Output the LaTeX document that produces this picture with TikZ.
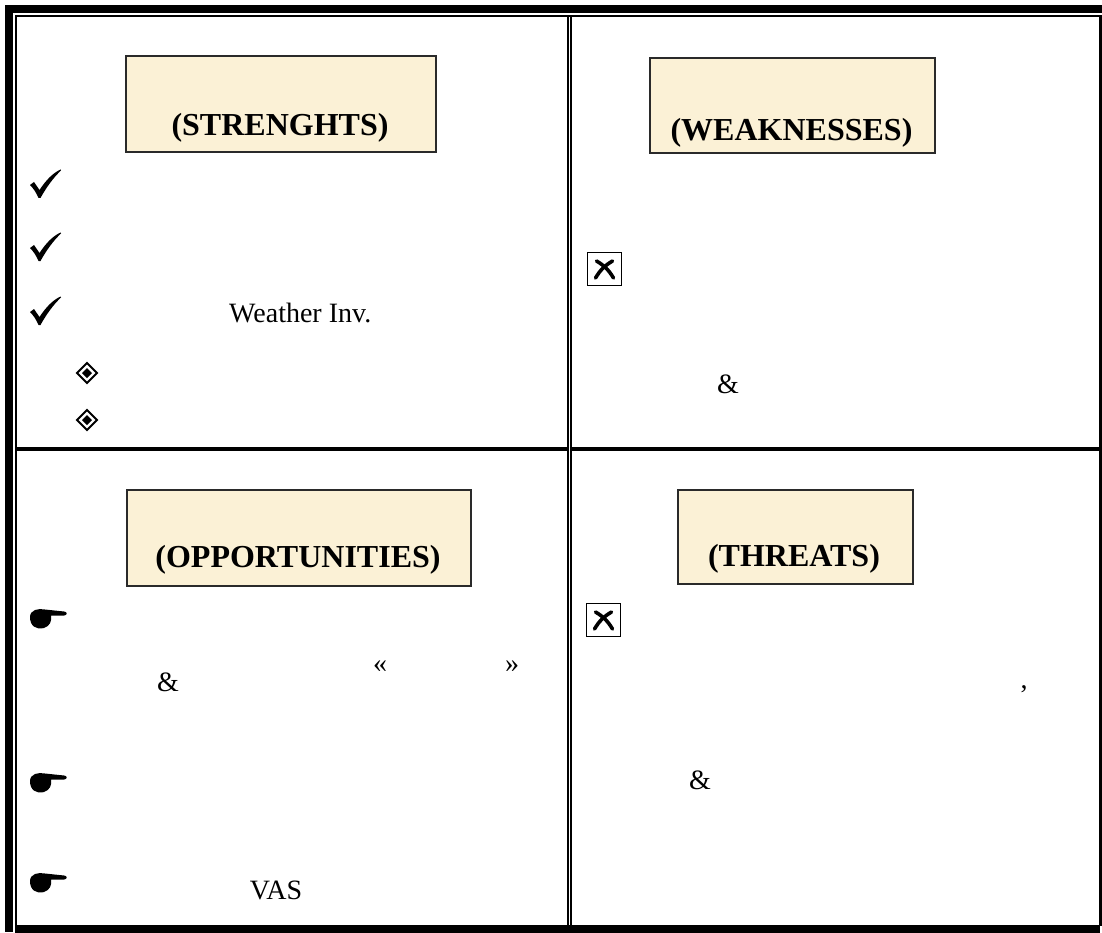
\documentclass[tikz,border=0pt]{standalone}
\usepackage{fontspec}
\setmainfont{Liberation Serif}
\definecolor{cream}{HTML}{FBF1D6}
\definecolor{edgegray}{HTML}{2A2A2A}
\begin{document}
\begin{tikzpicture}[x=1pt,y=-1pt,
  titlebox/.style={draw=edgegray, line width=1.6pt, fill=cream, anchor=north west, inner sep=0pt},
  titletext/.style={anchor=base, inner sep=0pt, font=\fontsize{32}{38}\selectfont\bfseries},
  body/.style={anchor=base, inner sep=0pt, font=\fontsize{28}{34}\selectfont},
  xbox/.style={draw=black, line width=1.6pt, minimum width=34pt, minimum height=33pt, inner sep=0pt},
  xstroke/.style={line width=3.6pt, line cap=round},
  tickmark/.pic={
    \fill (-15,1) -- (-11,-2) -- (-5.5,6)
      .. controls (1,-4) and (8,-11) .. (15.5,-14.5) -- (16,-13.5)
      .. controls (8,-6) and (1,4) .. (-4.5,14) -- (-6.5,14)
      .. controls (-9,8) and (-12,4) .. cycle;
  },
  gemmark/.pic={
    \draw[line width=1.9pt, line join=miter] (0,-10) -- (10,0) -- (0,10) -- (-10,0) -- cycle;
    \fill (0,-5) -- (5,0) -- (0,5) -- (-5,0) -- cycle;
  },
  handmark/.pic={
    \fill (-18,-1) .. controls (-18,-8) and (-10,-10) .. (-3,-8.5)
      -- (16,-6.5) .. controls (19.5,-6.5) and (19.5,-2.5) .. (16,-2.5)
      -- (3,-2.5) .. controls (4,3) and (2,8) .. (-4,10)
      .. controls (-12,12) and (-18,8) .. cycle;
  }
]
\useasboundingbox (0,0) rectangle (1102,933);
\fill[white] (0,0) rectangle (1102,933);

% outer frame: thick and thin rules
\fill (5,5) rectangle (1102,13);
\fill (5,5) rectangle (13,932);
\fill (15,15) rectangle (1102,17);
\fill (15,15) rectangle (17,926);
\fill (15,925) rectangle (1100,933);
\fill (1099,15) rectangle (1102,926);

% cell dividers
\fill (567,17) rectangle (568.7,925);
\fill (570.3,17) rectangle (572,925);
\fill (17,447) rectangle (568.7,451);
\fill (570.3,447) rectangle (1099,451);

% title boxes
\node[titlebox, minimum width=310pt, minimum height=96pt] (sbox) at (125,55) {};
\node[titletext] (stitle) at (280,136) {(STRENGHTS)};
\node[titlebox, minimum width=285pt, minimum height=95pt] (wbox) at (649,57) {};
\node[titletext] (wtitle) at (791.5,141) {(WEAKNESSES)};
\node[titlebox, minimum width=344pt, minimum height=96pt] (obox) at (126,489) {};
\node[titletext] (otitle) at (298,567) {(OPPORTUNITIES)};
\node[titlebox, minimum width=235pt, minimum height=94pt] (tbox) at (677,489) {};
\node[titletext] (ttitle) at (794,566) {(THREATS)};

% strengths
\pic (s1) at (45,184) {tickmark};
\pic (s2) at (45,247) {tickmark};
\pic (s3) at (45,311) {tickmark};
\node[body, anchor=base west] (swx) at (229,322) {Weather Inv.};
\pic (g1) at (87,373) {gemmark};
\pic (g2) at (87,420) {gemmark};

% weaknesses
\node[xbox] (xb1) at (604.5,269) {};
\draw[xstroke] ([shift={(-8,-8)}]xb1.center) to[bend left=14] ([shift={(9,9)}]xb1.center);
\draw[xstroke] ([shift={(8,-8)}]xb1.center) to[bend right=14] ([shift={(-9,9)}]xb1.center);
\node[body] (wamp) at (728,393) {\&};

% opportunities
\pic (h1) at (48,618) {handmark};
\node[body] (lq) at (380,672) {«};
\node[body] (rq) at (512,672) {»};
\node[body] (oamp) at (168,691) {\&};
\pic (h2) at (48,782) {handmark};
\pic (h3) at (48,882) {handmark};
\node[body] (vas) at (276,899) {VAS};

% threats
\node[xbox] (xb2) at (603.5,620) {};
\draw[xstroke] ([shift={(-8,-8)}]xb2.center) to[bend left=14] ([shift={(9,9)}]xb2.center);
\draw[xstroke] ([shift={(8,-8)}]xb2.center) to[bend right=14] ([shift={(-9,9)}]xb2.center);
\node[body] (comma) at (1024,688) {,};
\node[body] (tamp) at (700,789) {\&};
\end{tikzpicture}
\end{document}
